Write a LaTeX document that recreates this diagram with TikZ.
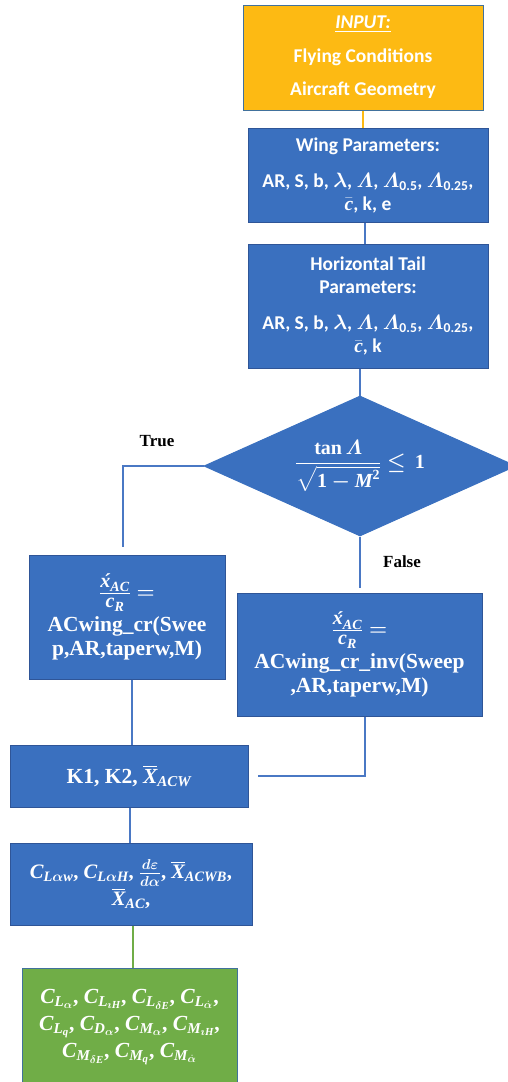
\documentclass[tikz,border=0pt]{standalone}
\usepackage{fontspec}
\setmainfont{Liberation Serif}
\newfontfamily\carlfont{Carlito}
\usepackage{amsmath}
\usepackage{bm}
\usetikzlibrary{shapes.geometric}
\newcommand\bi[1]{\text{\normalfont\bfseries\itshape #1}}
\newcommand\fsz[2]{\text{\fontsize{#1}{#1}\selectfont\bfseries\itshape #2}}
\newcommand\xacfrac{\frac{\rule[-4pt]{0pt}{0pt}\fsz{20}{\'x}_{\fsz{14}{AC}}}{\rule{0pt}{13pt}\fsz{20}{c}_{\fsz{14}{R}}}\bm{=}}
\definecolor{boxblue}{HTML}{3A70BF}
\definecolor{edgeblue}{HTML}{2F5597}
\definecolor{lineblue}{HTML}{4A78C4}
\definecolor{boxorange}{HTML}{FDBA13}
\definecolor{boxgreen}{HTML}{70AD47}
\definecolor{greyedge}{HTML}{41719C}
\begin{document}
\begin{tikzpicture}[x=1pt,y=-1pt,
  boxbase/.style={rectangle, draw=edgeblue, line width=1pt, inner sep=0pt, text=white, align=center, anchor=center},
  calbox/.style={boxbase, fill=boxblue, font=\carlfont\bfseries\fontsize{19.5}{23}\selectfont},
  timesbox/.style={boxbase, fill=boxblue, font=\bfseries\fontsize{21.5}{24}\selectfont},
  conn/.style={draw=lineblue, line width=2pt},
  lab/.style={font=\bfseries\fontsize{17}{20}\selectfont, text=black}
]
\useasboundingbox (0,0) rectangle (508,1082);
\begin{scope}
\clip (0,0) rectangle (508,1082);

% Input
\node[calbox, fill=boxorange, draw=greyedge, minimum width=240pt, minimum height=105pt] (inp) at (363,57.5)
  {\underline{\textit{INPUT:}}\\[11pt] Flying Conditions\\[10pt] Aircraft Geometry};

% Wing parameters
\node[calbox, minimum width=240pt, minimum height=94pt] (wing) at (368,175)
  {Wing Parameters:\\[13pt]
   AR, S, b, $\bm{\lambda}$, $\bm{\varLambda}$, $\bm{\varLambda}_{\text{0.5}}$, $\bm{\varLambda}_{\text{0.25}}$,\\
   $\bar{\bi{c}}$, k, e};

% Horizontal tail
\node[calbox, minimum width=240pt, minimum height=124pt] (ht) at (368,306)
  {Horizontal Tail\\ Parameters:\\[13pt]
   AR, S, b, $\bm{\lambda}$, $\bm{\varLambda}$, $\bm{\varLambda}_{\text{0.5}}$, $\bm{\varLambda}_{\text{0.25}}$,\\
   $\bar{\bi{c}}$, k};

% Decision
\node[diamond, shape aspect=2.23, draw=boxblue, line width=1pt, fill=boxblue, text=white, inner sep=0pt,
      minimum width=312pt, minimum height=140pt, font=\bfseries\fontsize{20}{22}\selectfont] (dia) at (360,466)
  {$\dfrac{\text{tan}\,\bm{\varLambda}}{\sqrt{\text{1}\bm{-}\bi{M}^{\text{2}}}}\bm{\leq}\,\text{1}$};

% Left (True) box
\node[timesbox, minimum width=196pt, minimum height=124pt] (lbox) at (127,617)
  {$\xacfrac$\\[4pt] ACwing\_cr(Swee\\ p,AR,taperw,M)};

% Right (False) box
\node[timesbox, minimum width=245pt, minimum height=123pt] (rbox) at (359.5,654.5)
  {$\xacfrac$\\[4pt] ACwing\_cr\_inv(Sweep\\ ,AR,taperw,M)};

% K box
\node[timesbox, minimum width=238pt, minimum height=62pt] (kbox) at (129,776)
  {K1, K2, $\overline{\bi{X}}_{\bi{ACW}}$};

% C box
\node[timesbox, font=\bfseries\fontsize{20.5}{27}\selectfont, minimum width=242pt, minimum height=82pt] (cbox) at (131,884)
  {$\bi{C}_{\bi{L}\bm{\alpha}\bi{w}}$, $\bi{C}_{\bi{L}\bm{\alpha}\bi{H}}$, $\bm{\frac{d\varepsilon}{d\alpha}}$, $\overline{\bi{X}}_{\bi{ACWB}}$,\\ $\overline{\bi{X}}_{\bi{AC}}$,};

% Green output box
\node[timesbox, font=\bfseries\fontsize{21.5}{27}\selectfont, fill=boxgreen, draw=greyedge, minimum width=215pt, minimum height=118pt] (gbox) at (129.5,1027)
  {$\bi{C}_{\bi{L}_{\bm\alpha}}$, $\bi{C}_{\bi{L}_{\bm\imath\bi{H}}}$, $\bi{C}_{\bi{L}_{\bm\delta\bi{E}}}$, $\bi{C}_{\bi{L}_{\bm{\dot\alpha}}}$,\\
   $\bi{C}_{\bi{L}_{\bi{q}}}$, $\bi{C}_{\bi{D}_{\bm\alpha}}$, $\bi{C}_{\bi{M}_{\bm\alpha}}$, $\bi{C}_{\bi{M}_{\bm\imath\bi{H}}}$,\\
   $\bi{C}_{\bi{M}_{\bm\delta\bi{E}}}$, $\bi{C}_{\bi{M}_{\bi{q}}}$, $\bi{C}_{\bi{M}_{\bm{\dot\alpha}}}$};

% Labels
\node[lab] (truelab) at (157,441) {True};
\node[lab] (falselab) at (402,562) {False};

% Connectors
\draw[conn, draw=boxorange] (inp.south) -- (inp.south |- wing.north);
\draw[conn] ([xshift=-3pt]wing.south) -- ([xshift=-3pt]wing.south |- ht.north);
\draw[conn] (dia.north |- ht.south) -- (dia.north);
\draw[conn, shorten >=8pt] (dia.west) -| ([xshift=-4pt]lbox.north);
\draw[conn, shorten >=5pt] (dia.south) -- (dia.south |- rbox.north);
\draw[conn] ([xshift=5pt]lbox.south) -- ([xshift=5pt]lbox.south |- kbox.north);
\draw[conn, shorten >=9pt] ([xshift=5.5pt]rbox.south) |- (kbox.east);
\draw[conn] ([xshift=1pt]kbox.south) -- ([xshift=1pt]kbox.south |- cbox.north);
\draw[conn, draw=boxgreen] ([xshift=2pt]cbox.south) -- ([xshift=2pt]cbox.south |- gbox.north);
\end{scope}
\end{tikzpicture}
\end{document}
